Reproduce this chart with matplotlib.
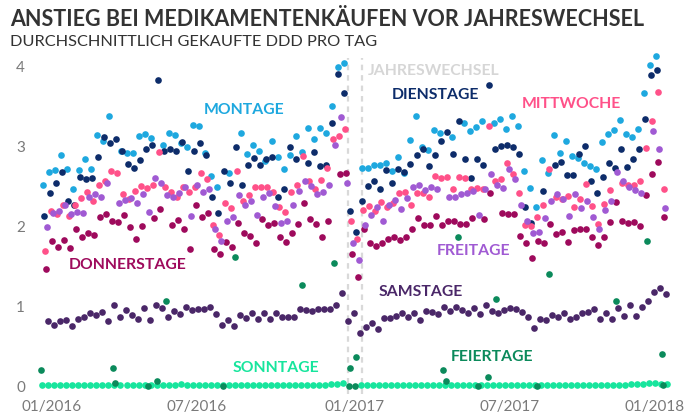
import numpy as np
import matplotlib.pyplot as plt

plt.rcParams['font.family'] = ['Lato', 'DejaVu Sans']

nan = np.nan

# Werte je Wochentag, eine Zahl pro Woche (Woche 0: Mo 04.01.2016), nan = Feiertag
montage = [2.53, 2.69, 2.71, 2.90, 2.73, 2.47, 2.71, 2.85, 2.73, 3.15,
           3.08, 3.39, nan, 2.95, 2.93, 2.93, 3.14, 3.16, 3.11, nan,
           3.03, 3.18, 3.15, 3.05, 3.00, 3.28, 3.26, 2.93, 2.64, 2.50,
           nan, 2.68, nan, 3.17, 2.91, 3.03, 2.95, 2.82, 3.07, 2.88,
           2.72, 2.90, 3.14, 2.94, 3.24, 3.10, 3.24, 3.17, 3.51, 4.00,
           4.05, nan, nan, 2.74, 2.74, 2.78, 2.78, 2.80, 2.70, 2.87,
           2.68, 3.09, 3.39, 3.00, 2.96, 3.21, 3.17, nan, 3.13, nan,
           3.30, 3.20, 3.25, 3.32, nan, 3.30, 3.35, 3.23, 3.39, 3.26,
           2.70, 2.49, 2.25, 2.84, 2.67, 3.15, 2.92, 3.07, 2.89, 2.86,
           2.80, 2.76, 2.73, 3.06, 3.16, 3.21, 3.34, 3.16, 3.12, 3.23,
           3.67, 4.03, 4.14, nan]
dienstage = [2.14, 2.43, 2.55, 2.69, 2.33, 2.28, 2.63, 2.60, 2.61, 2.88,
             3.12, 3.05, 3.10, 2.95, 2.79, 2.74, 2.84, 2.97, 3.03, 3.84,
             2.95, 2.98, 2.95, 3.06, 2.70, 2.95, 3.05, 2.90, 2.37, 2.18,
             2.70, 2.55, 3.00, 2.52, 2.77, 2.86, 2.77, 2.85, 2.88, 2.38,
             2.47, 3.00, 2.85, nan, 2.80, 2.94, 2.76, 2.78, 3.30, 3.91,
             3.68, 2.20, 1.94, 2.32, 2.51, 2.58, 2.48, 2.71, 2.55, 2.73,
             2.69, 2.79, 2.90, 2.97, 2.76, 2.90, 3.08, 3.19, 2.91, 3.33,
             2.85, 2.61, 2.85, 2.78, 3.78, 2.98, 3.01, 3.03, 3.00, 2.91,
             2.25, 2.05, nan, 2.45, nan, 2.78, 2.81, 2.65, 2.65, 2.91,
             3.01, 2.57, 2.42, 2.62, 2.80, 2.74, 2.98, 2.75, 2.85, 2.97,
             3.35, 3.90, 3.96, nan]
mittwoche = [1.70, 2.20, 2.16, 2.27, 2.14, 2.28, 2.36, 2.44, 2.32, 2.53,
             2.58, 2.70, 2.67, 2.41, 2.35, 2.45, 2.51, 2.49, 2.53, 2.94,
             2.50, 2.44, 2.38, 2.50, 2.44, 2.50, 2.67, 2.60, 2.02, 1.90,
             2.30, 2.24, 2.70, 2.33, 2.40, 2.50, 2.50, 2.50, 2.44, 2.25,
             2.19, 2.44, 2.53, 2.89, 2.57, 2.47, 2.59, 2.74, 3.10, 3.14,
             3.22, 2.07, 1.85, 2.21, 2.26, 2.20, 2.31, 2.25, 2.30, 2.42,
             2.44, 2.28, 2.43, 2.43, 2.38, 2.64, 2.61, 2.63, 2.47, 2.63,
             2.61, 2.47, 2.49, 2.47, 3.26, 2.58, 2.60, 2.80, 2.66, 2.42,
             2.02, 2.01, 2.13, 2.28, 2.72, 2.38, 2.35, 2.39, 2.25, 2.35,
             2.54, 2.26, 2.04, 2.29, 2.46, nan, 2.55, 2.53, 2.53, 2.58,
             2.99, 3.32, 3.69, 2.48]
donnerstage = [1.47, 1.83, 1.75, 1.84, 1.74, 1.98, 1.87, 1.92, 1.90, 2.13,
               2.16, 2.08, 2.06, 2.15, 2.00, 1.85, 2.01, nan, 2.11, 2.23,
               nan, 2.03, 2.09, 1.98, 1.73, 2.27, 2.13, 2.18, 1.73, 1.66,
               1.81, 1.75, 2.05, 1.93, 1.89, 1.80, 2.10, 2.03, 2.05, 1.88,
               1.81, 1.92, 2.04, 2.30, 2.10, 2.04, 1.88, 2.08, nan, 2.66,
               2.67, 1.66, 1.38, 1.97, 1.80, 1.76, 1.80, 1.85, 1.88, 1.84,
               1.88, 1.97, 2.11, 2.03, 2.02, 2.14, 2.03, 2.08, 2.07, 2.04,
               2.04, 2.11, nan, 2.10, 2.42, nan, 2.17, 2.16, 2.16, 1.89,
               1.80, 1.61, 1.83, 1.80, 2.04, 1.91, 1.94, 1.81, 1.96, 1.97,
               1.97, 1.87, 1.78, 1.88, 2.06, 2.31, 2.07, 2.05, 2.06, 2.01,
               2.40, 2.66, 2.81, 2.13]
freitage = [2.00, 2.17, 2.20, 2.27, 2.16, 2.19, 2.17, 2.38, 2.41, 2.37,
            2.55, nan, 2.30, 2.34, 2.36, 2.30, 2.41, 2.19, 2.61, 2.55,
            2.40, 2.38, 2.42, 2.50, 2.14, 2.52, 2.44, 2.47, 1.98, 1.82,
            2.07, 2.13, 2.40, 2.28, 2.32, 2.15, 2.38, 2.43, 2.26, 2.05,
            2.07, 2.27, 2.45, 2.57, 2.51, 2.41, 2.44, 2.53, 3.03, 3.38,
            2.55, 1.80, 1.59, 2.03, 2.15, 2.25, 2.08, 2.27, 2.34, 2.23,
            2.36, 2.50, 2.52, 2.46, 2.50, 2.47, nan, 2.38, 2.38, 2.41,
            2.43, 2.45, 2.15, 2.47, 2.66, 2.52, 2.49, 2.73, 2.60, 2.28,
            2.07, 1.92, 1.94, 2.11, 2.33, 2.41, 2.35, 2.14, 2.41, 2.24,
            2.33, 2.13, 1.98, 2.21, 2.32, 2.69, 2.58, 2.50, 2.46, 2.43,
            nan, 3.20, 2.98, 2.24]
samstage = [0.82, 0.77, 0.82, 0.84, 0.76, 0.85, 0.88, 0.93, 0.90, 0.94,
            0.82, 1.02, 0.88, 0.96, 0.90, 0.85, 0.99, 0.84, 1.03, 0.99,
            0.88, 0.95, 0.91, 1.00, 0.96, 0.98, 0.97, 1.00, 0.91, 0.77,
            0.84, 0.76, 0.90, 0.86, 0.92, 0.85, 0.93, 0.85, 0.93, 0.88,
            0.88, 0.88, 0.98, 0.96, 0.95, 0.97, 0.97, 0.98, 1.02, 1.17,
            0.83, 0.93, 0.67, 0.75, 0.80, 0.72, 0.86, 0.86, 0.89, 0.93,
            0.88, 0.93, 0.84, 0.95, 0.94, 0.91, 1.00, 0.95, 1.00, 0.96,
            0.92, 0.99, 0.91, 1.02, 0.95, 0.92, 0.96, 0.99, 0.98, 0.94,
            0.87, 0.74, 0.85, 0.84, 0.90, 0.87, 0.93, 0.85, 0.87, 0.93,
            0.94, 0.97, 0.85, 0.93, 0.85, 0.99, 0.89, 1.02, 0.89, 1.00,
            1.08, 1.19, 1.24, 1.16]
# Sonntage ab So 03.01.2016
sonntage = [0.02, 0.03, 0.03, 0.02, 0.03, 0.02, 0.02, 0.03, 0.02, 0.03,
            0.02, 0.03, 0.03, 0.02, 0.02, 0.03, 0.02, 0.03, 0.03, 0.02,
            0.02, 0.03, 0.02, 0.04, 0.03, 0.02, 0.03, 0.02, 0.02, 0.03,
            0.02, 0.03, 0.03, 0.02, 0.03, 0.02, 0.03, 0.02, 0.02, 0.03,
            0.02, 0.03, 0.02, 0.02, 0.03, 0.03, 0.02, 0.03, 0.04, 0.04,
            0.05, nan, nan, 0.02, 0.02, 0.03, 0.02, 0.02, 0.03, 0.02,
            0.02, 0.03, 0.02, 0.02, 0.03, 0.02, 0.02, 0.03, 0.02, 0.03,
            0.02, 0.02, 0.03, 0.02, 0.02, 0.03, 0.02, 0.02, 0.03, 0.02,
            0.02, 0.03, 0.02, 0.02, 0.03, 0.02, 0.03, 0.02, 0.02, 0.03,
            0.02, 0.03, 0.02, 0.03, 0.03, 0.02, 0.03, 0.03, 0.04, 0.04,
            0.04, 0.05, 0.05, 0.04, 0.04]
# Feiertage: Tage seit 01.01.2016 und Wert
feiertage_tag = [0, 84, 87, 125, 136, 146, 213, 227, 305, 342, 359, 360, 366, 367,
                 469, 472, 486, 510, 521, 531, 578, 592, 670, 707, 724, 725]
feiertage_wert = [0.21, 0.24, 0.05, 0.01, 0.07, 1.07, 0.01, 1.62, 1.28, 1.55, 0.01, 0.24, 0.01, 0.37,
                  0.21, 0.08, 1.88, 0.01, 0.13, 1.10, 0.01, 1.41, 1.07, 1.82, 0.41, 0.02]

tick_tage = [13, 182, 366, 547, 715]
tick_labels = ['01/2016', '07/2016', '01/2017', '07/2017', '01/2018']

reihen = [
    (montage, 0, '#1ea8df', 'MONTAGE', 244, 110),
    (dienstage, 1, '#0d2c6a', 'DIENSTAGE', 435, 95),
    (mittwoche, 2, '#ff5189', 'MITTWOCHE', 571, 104),
    (donnerstage, 3, '#9e0a5c', 'DONNERSTAGE', 128, 265),
    (freitage, 4, '#a05ad3', 'FREITAGE', 473, 251),
    (samstage, 5, '#4a2768', 'SAMSTAGE', 421, 292),
]

W, H = 684, 417
fig = plt.figure(figsize=(W / 100, H / 100), dpi=100)
ax = fig.add_axes([0, 0, 1, 1])
ax.set_xlim(-40.7 / 0.858, (W - 40.7) / 0.858)
ax.set_ylim((387 - H) / 80, 387 / 80)

# Jahreswechsel
for t in [358, 374.5]:
    ax.axvline(t, ymin=0.055, ymax=0.86, color='#d9d9d9', lw=1.6, ls=(0, (2.5, 2.2)), zorder=1)
fig.text(368 / W, 1 - 71 / H, 'JAHRESWECHSEL', color='#d6d6d6', fontsize=11.3,
         fontweight='bold', va='center', ha='left')

for werte, off, farbe, name, lx, ly in reihen:
    tage = 3 + 7 * np.arange(len(werte)) + off
    ax.scatter(tage, werte, s=23, color=farbe, lw=0, zorder=3)
    fig.text(lx / W, 1 - ly / H, name, color=farbe, fontsize=11.3, fontweight='bold',
             ha='center', va='center')

tage_so = 2 + 7 * np.arange(len(sonntage))
ax.scatter(tage_so, sonntage, s=23, color='#17e59d', lw=0, zorder=3)
fig.text(276 / W, 1 - 368 / H, 'SONNTAGE', color='#17e59d', fontsize=11.3, fontweight='bold',
         ha='center', va='center')

ax.scatter(feiertage_tag, feiertage_wert, s=23, color='#0b8a5b', lw=0, zorder=4)
fig.text(492 / W, 1 - 357 / H, 'FEIERTAGE', color='#0b8a5b', fontsize=11.3, fontweight='bold',
         ha='center', va='center')

for s in ax.spines.values():
    s.set_visible(False)
ax.set_yticks([0, 1, 2, 3, 4])
ax.tick_params(axis='y', length=0, pad=-18, labelsize=11, labelcolor='#7a7a7a')
ax.set_xticks(tick_tage, tick_labels)
ax.tick_params(axis='x', length=0, pad=-12, labelsize=11, labelcolor='#7a7a7a')

fig.text(10 / W, 1 - 19 / H, 'ANSTIEG BEI MEDIKAMENTENKÄUFEN VOR JAHRESWECHSEL',
         fontsize=15.5, fontweight='bold', color='#333333', va='center', ha='left')
fig.text(10 / W, 1 - 42 / H, 'DURCHSCHNITTLICH GEKAUFTE DDD PRO TAG',
         fontsize=11.8, color='#333333', va='center', ha='left')

fig.savefig('out.png', dpi=100)
